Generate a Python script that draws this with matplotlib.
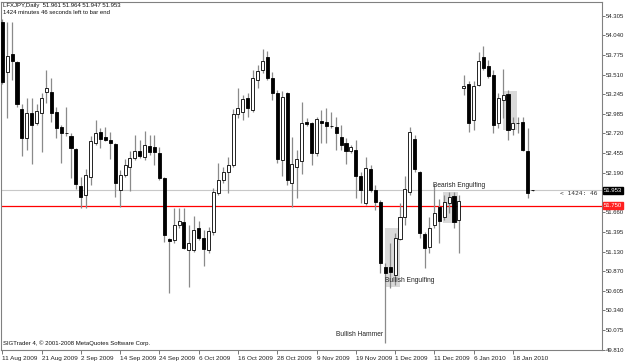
import matplotlib
matplotlib.use('Agg')
import matplotlib.pyplot as plt
from matplotlib.patches import Rectangle
import matplotlib.transforms as mtransforms
import numpy as np

plt.rcParams['font.family'] = ['Liberation Sans', 'DejaVu Sans']

# ---------------- data ----------------
opens = [
    54.220, 53.547, 53.789, 53.686, 53.049, 52.659, 52.995, 52.861, 52.995, 53.278,
    53.278, 53.009, 52.807, 52.730, 52.686, 52.511, 52.013, 51.892, 52.134, 52.591,
    52.740, 52.672, 52.632, 52.578, 51.959, 52.161, 52.268, 52.390, 52.484, 52.403,
    52.551, 52.538, 52.457, 52.120, 51.299, 51.286, 51.488, 51.528, 51.151, 51.151,
    51.447, 51.313, 51.151, 51.393, 51.918, 52.093, 52.201, 52.295, 52.982, 53.009,
    53.197, 53.035, 53.439, 53.574, 53.749, 53.466, 53.264, 52.363, 53.264, 52.053,
    52.268, 52.349, 52.874, 52.861, 52.457, 52.887, 52.874, 52.822, 52.807, 52.672,
    52.591, 52.484, 52.497, 52.147, 51.784, 52.241, 51.959, 51.797, 50.922, 50.922,
    50.815, 51.299, 51.596, 51.932, 52.645, 52.201, 51.367, 51.192, 51.488, 51.730,
    51.596, 51.784, 51.878, 51.555, 53.332, 53.385, 52.901, 53.372, 53.749, 53.628,
    53.507, 52.861, 53.170, 53.251, 52.780, 52.863, 52.874, 52.484, 51.961,
]
highs = [
    54.260, 54.224, 54.224, 53.695, 53.116, 53.197, 53.197, 53.116, 53.264, 53.574,
    53.466, 53.076, 52.834, 53.076, 52.726, 52.520, 52.134, 52.241, 52.686, 52.901,
    52.793, 52.807, 52.740, 52.591, 52.228, 52.376, 52.484, 52.699, 52.632, 52.753,
    52.699, 52.699, 52.538, 52.134, 51.313, 51.717, 51.717, 51.717, 51.488, 51.609,
    51.541, 51.420, 51.461, 51.986, 52.322, 52.268, 52.403, 53.049, 53.332, 53.237,
    53.264, 53.574, 53.641, 53.857, 53.830, 53.547, 53.305, 53.291, 53.278, 52.672,
    52.497, 53.143, 52.928, 52.874, 52.941, 53.035, 53.062, 53.009, 52.941, 52.834,
    52.659, 52.564, 52.632, 52.201, 52.403, 52.295, 52.026, 51.824, 50.976, 51.245,
    51.380, 51.784, 52.147, 52.807, 52.699, 52.215, 51.393, 51.596, 52.039, 51.838,
    51.892, 51.932, 51.932, 51.892, 53.507, 53.426, 53.426, 53.816, 53.897, 53.708,
    53.574, 53.264, 53.587, 53.305, 52.941, 52.941, 52.941, 52.793, 51.964,
]
lows = [
    53.385, 52.928, 53.439, 53.080, 52.416, 52.497, 52.309, 52.834, 52.470, 53.130,
    52.874, 52.659, 52.322, 52.686, 52.120, 51.972, 51.717, 51.717, 52.026, 52.564,
    52.524, 52.618, 52.376, 51.865, 51.730, 52.134, 51.945, 52.363, 52.390, 52.363,
    52.430, 52.295, 52.093, 51.259, 50.573, 51.245, 51.447, 51.165, 50.653, 51.124,
    51.286, 50.936, 51.111, 51.353, 51.892, 52.053, 51.918, 52.268, 52.928, 52.901,
    52.941, 53.009, 53.332, 53.534, 53.439, 53.170, 52.322, 52.147, 52.026, 51.730,
    51.851, 52.174, 52.820, 52.295, 52.416, 52.591, 52.591, 52.793, 52.497, 52.497,
    52.309, 52.457, 51.851, 51.784, 51.757, 51.932, 51.690, 50.842, 49.900, 50.640,
    50.680, 51.286, 51.488, 51.892, 52.201, 51.313, 50.909, 51.111, 51.447, 51.245,
    51.555, 51.649, 51.447, 51.111, 53.237, 52.740, 52.766, 53.359, 53.574, 53.466,
    52.726, 52.793, 52.928, 52.632, 52.699, 52.726, 52.490, 51.851, 51.947,
]
closes = [
    53.412, 53.762, 53.699, 53.116, 52.659, 52.995, 52.834, 53.022, 53.197, 53.332,
    52.995, 52.793, 52.726, 52.726, 52.524, 52.039, 51.865, 52.161, 52.618, 52.726,
    52.645, 52.632, 52.591, 52.053, 52.161, 52.295, 52.390, 52.484, 52.416, 52.564,
    52.470, 52.470, 52.120, 51.353, 51.272, 51.488, 51.541, 51.178, 51.245, 51.420,
    51.313, 51.165, 51.407, 51.932, 52.093, 52.201, 52.295, 52.982, 53.062, 53.184,
    53.062, 53.466, 53.560, 53.695, 53.466, 53.264, 52.376, 53.210, 52.093, 52.309,
    52.376, 52.861, 52.847, 52.457, 52.914, 52.861, 52.820, 52.818, 52.726, 52.564,
    52.484, 52.538, 52.147, 51.959, 52.255, 51.959, 51.797, 50.976, 50.842, 50.855,
    51.313, 51.596, 51.972, 52.740, 52.241, 51.380, 51.178, 51.447, 51.649, 51.541,
    51.797, 51.865, 51.528, 51.811, 53.359, 52.861, 53.359, 53.695, 53.601, 53.493,
    52.834, 53.197, 53.237, 52.766, 52.861, 52.859, 52.497, 51.918, 51.953,
]

date_ticks = list(range(0, 105, 8))
date_labels = ["11 Aug 2009", "21 Aug 2009", "2 Sep 2009", "14 Sep 2009",
               "24 Sep 2009", "6 Oct 2009", "16 Oct 2009", "28 Oct 2009",
               "9 Nov 2009", "19 Nov 2009", "1 Dec 2009", "11 Dec 2009",
               "6 Jan 2010", "18 Jan 2010"]
price_ticks = [54.305, 54.040, 53.775, 53.510, 53.245, 52.985, 52.720, 52.455,
               52.190, 51.660, 51.395, 51.130, 50.870, 50.605, 50.340, 50.075,
               49.810]

bid_price = 51.953
level_price = 51.750

# pattern boxes: (x_start, x_end, low, high)
box_x0 = [77.95, 89.8, 102.0]
box_x1 = [81.0, 92.8, 104.9]
box_lo = [50.657, 51.511, 52.766]
box_hi = [51.447, 51.936, 53.291]

notes = ["Bullish Hammer", "Bullish Engulfing", "Bearish Engulfing"]
note_x = [77.5, 77.9, 87.8]
note_y = [50.007, 50.734, 52.020]
note_ha = ["right", "left", "left"]

# ---------------- figure ----------------
W, H = 625, 362
fig = plt.figure(figsize=(W / 100, H / 100), dpi=100)
fig.patch.set_facecolor('white')
ax = fig.add_axes([1 / W, 1 - 350 / H, 601 / W, 348.5 / H])
ax.set_facecolor('white')
ax.set_xlim(-0.26, 122.14)
ax.set_ylim(49.805, 54.496)

o = np.array(opens); h = np.array(highs); l = np.array(lows); c = np.array(closes)
x = np.arange(len(o))
up = c >= o

# pattern rectangles (behind candles)
for x0, x1, lo, hi in zip(box_x0, box_x1, box_lo, box_hi):
    ax.add_patch(Rectangle((x0, lo), x1 - x0, hi - lo, facecolor='#d9d9d9',
                           edgecolor='none', zorder=1))

ax.axhline(bid_price, color='#c8c8c8', lw=0.8, zorder=1.5)
ax.axhline(level_price, color='#ff0000', lw=0.9, zorder=1.5)

ax.vlines(x, l, h, color='#8a8a8a', lw=0.9, zorder=2)
bottoms = np.minimum(o, c)
heights = np.abs(c - o)
ax.bar(x, heights, bottom=bottoms, width=0.62,
       color=np.where(up, 'white', 'black'), edgecolor='black',
       linewidth=0.6, zorder=3)

for t, xx, yy, ha in zip(notes, note_x, note_y, note_ha):
    ax.text(xx, yy, t, fontsize=4.8, ha=ha, va='center', color='#222222', zorder=4)

ax.text(113.6, bid_price - 0.005, "< 1424: 46", fontsize=4.5, ha='left', va='top',
        family='DejaVu Sans Mono', color='#333333')

# axes styling
for s in ['top', 'left', 'bottom', 'right']:
    ax.spines[s].set_color('#808080')
    ax.spines[s].set_linewidth(0.8)

ax.yaxis.tick_right()
ax.set_yticks(price_ticks)
ax.set_yticklabels([f"{p:.3f}" for p in price_ticks])
ax.tick_params(axis='y', direction='out', length=2, width=0.6, color='#606060',
               labelsize=4.3, pad=1, labelcolor='#222222')
ax.set_xticks(date_ticks)
ax.set_xticklabels(date_labels)
ax.tick_params(axis='x', direction='out', length=3, width=0.6, color='#606060',
               labelsize=4.6, pad=1, labelcolor='#222222')
for lab in ax.get_xticklabels():
    lab.set_ha('left')

# price boxes on the right axis
tr = mtransforms.blended_transform_factory(ax.transAxes, ax.transData)
ax.text(1.003, bid_price, f"{bid_price:.3f}", transform=tr, fontsize=4.3, color='white',
        ha='left', va='center',
        bbox=dict(boxstyle='square,pad=0.2', fc='black', ec='black'), clip_on=False)
ax.text(1.003, level_price, f"{level_price:.3f}", transform=tr, fontsize=4.3, color='white',
        ha='left', va='center',
        bbox=dict(boxstyle='square,pad=0.2', fc='#ff2020', ec='#ff2020'), clip_on=False)

# header / footer texts
fig.text(3 / W, 1 - 6 / H, "LFXJPY,Daily  51.961 51.964 51.947 51.953", fontsize=4.3,
         ha='left', va='center', color='#111111')
fig.text(3 / W, 1 - 13 / H, "1424 minutes 46 seconds left to bar end", fontsize=4.3,
         ha='left', va='center', color='#111111')
fig.text(3 / W, 1 - 343 / H, "SIGTrader 4, \u00a9 2001-2008 MetaQuotes Software Corp.",
         fontsize=4.3, ha='left', va='center', color='#111111')

fig.savefig('out.png', dpi=100, facecolor='white')
